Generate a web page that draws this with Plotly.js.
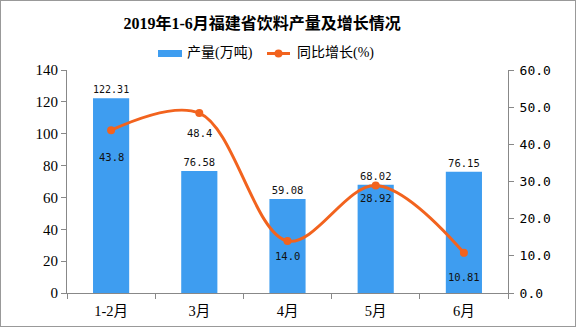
<!DOCTYPE html>
<html><head><meta charset="utf-8">
<script src="https://cdn.plot.ly/plotly-3.0.1.min.js"></script>
<style>body{margin:0;padding:0;background:#fff}#c{width:574px;height:325px;border:1px solid #999}</style>
</head><body><div id="c"></div>
<script>
const categories = ["1-2月", "3月", "4月", "5月", "6月"];
const output = [122.31, 76.58, 59.08, 68.02, 76.15];
const growth = [43.8, 48.4, 14.0, 28.92, 10.81];
const growthLabels = ["43.8", "48.4", "14.0", "28.92", "10.81"];
const outputLabels = ["122.31", "76.58", "59.08", "68.02", "76.15"];
const seriesNames = ["产量(万吨)", "同比增长(%)"];

// styling: per-label vertical offsets (px) for growth labels
const growthLabelShift = [-27, -20, -15, -12, -24];

const F = '"Liberation Serif", "Noto Sans CJK SC", serif';
const M = '"DejaVu Sans Mono", "Noto Sans CJK SC", monospace';
const BLUE = '#3E9DF0', ORANGE = '#F2631E';

const traces = [
  {type: 'bar', name: seriesNames[0], x: categories, y: output, marker: {color: BLUE},
   width: 0.41, text: outputLabels, textposition: 'outside', cliponaxis: false,
   textfont: {family: M, size: 10.5, color: '#111'}},
  {type: 'scatter', mode: 'lines+markers', name: seriesNames[1], x: categories, y: growth, yaxis: 'y2',
   line: {color: ORANGE, width: 3, shape: 'spline', smoothing: 1},
   marker: {color: ORANGE, size: 8}, cliponaxis: false}
];

const annotations = growth.map((v, i) => ({
  x: categories[i], y: v, xref: 'x', yref: 'y2', text: growthLabels[i], showarrow: false,
  yshift: growthLabelShift[i], font: {family: M, size: 10.5, color: '#111'}
}));
// custom legend text
annotations.push({xref: 'paper', yref: 'paper', x: 0.268, y: 1.074, xanchor: 'left', yanchor: 'middle',
  text: seriesNames[0], showarrow: false, font: {family: F, size: 14, color: '#000'}});
annotations.push({xref: 'paper', yref: 'paper', x: 0.517, y: 1.074, xanchor: 'left', yanchor: 'middle',
  text: seriesNames[1], showarrow: false, font: {family: F, size: 14, color: '#000'}});

const shapes = [
  {type: 'rect', xref: 'paper', yref: 'paper', x0: 0.2063, x1: 0.2608, y0: 1.0583, y1: 1.0897,
   fillcolor: BLUE, line: {width: 0}},
  {type: 'line', xref: 'paper', yref: 'paper', x0: 0.4535, x1: 0.5057, y0: 1.074, y1: 1.074,
   line: {color: ORANGE, width: 3}},
  {type: 'circle', xref: 'paper', yref: 'paper', x0: 0.4705, x1: 0.4887, y0: 1.0561, y1: 1.0919,
   fillcolor: ORANGE, line: {width: 0}}
];

const layout = {
  width: 574, height: 325,
  margin: {l: 66, r: 67, t: 69, b: 33},
  paper_bgcolor: '#fff', plot_bgcolor: '#fff',
  showlegend: false,
  title: {text: '<b>2019年1-6月福建省饮料产量及增长情况</b>', font: {family: F, size: 16, color: '#000'},
          x: 0.455, xanchor: 'center', y: 0.932, yanchor: 'middle'},
  annotations: annotations, shapes: shapes,
  xaxis: {type: 'category', showline: true, linecolor: '#888', ticks: 'outside', tickson: 'boundaries',
          ticklen: 5, tickcolor: '#888', ticklabelstandoff: 5, tickfont: {family: F, size: 14.5, color: '#000'}, showgrid: false},
  yaxis: {range: [0, 140], dtick: 20, showline: true, linecolor: '#888', ticks: 'outside', ticklen: 5,
          tickcolor: '#888', showgrid: false, zeroline: false, tickfont: {family: F, size: 15, color: '#000'}},
  yaxis2: {range: [0, 60], dtick: 10, tickformat: '.1f', overlaying: 'y', side: 'right', showline: true,
           linecolor: '#888', ticks: 'outside', ticklen: 5, tickcolor: '#888', showgrid: false, zeroline: false,
           ticklabelstandoff: 3, tickfont: {family: M, size: 13, color: '#000'}}
};
Plotly.newPlot('c', traces, layout, {displayModeBar: false, staticPlot: true});
</script></body></html>
